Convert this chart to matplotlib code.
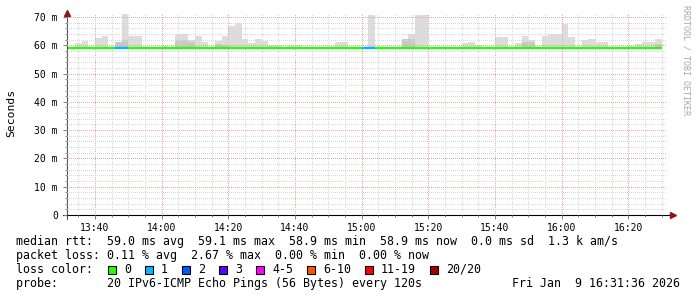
import numpy as np
import matplotlib.pyplot as plt
from matplotlib.patches import Rectangle

W, H = 697, 297

# 2 minute steps, minutes after midnight (13:32 ... 16:28)
step_start = np.arange(812, 990, 2)
t_first, t_last = 811.6, 991.6          # 13:31:36 .. 16:31:36

# smoke: highest ping per step (ms)
smoke_max = [59.3, 60.9, 61.6, 59.3, 62.7, 63.4, 59.3, 61.3, 71.1, 63.4,
             63.4, 59.3, 59.3, 59.3, 59.6, 59.3, 63.9, 63.9, 61.9, 63.3,
             61.1, 59.3, 61.5, 63.3, 66.8, 67.9, 62.2, 60.8, 62.2, 61.5,
             60.1, 60.1, 59.3, 60.1, 60.1, 59.3, 59.5, 59.3, 59.3, 59.3,
             61.1, 61.1, 59.3, 59.3, 59.3, 70.7, 59.3, 59.3, 59.3, 59.3,
             62.2, 64.0, 70.7, 70.7, 59.3, 59.3, 59.3, 59.5, 59.5, 60.8,
             61.1, 60.1, 59.5, 59.5, 62.9, 62.9, 59.3, 60.8, 63.3, 61.9,
             59.3, 63.3, 64.0, 64.0, 67.5, 62.9, 59.3, 61.9, 62.2, 61.1,
             61.1, 59.3, 59.3, 59.3, 59.6, 60.4, 61.1, 61.1, 62.2]
# inner (denser) part of the smoke
smoke_mid = [59.3, 59.3, 59.3, 59.3, 59.3, 59.3, 59.3, 61.3, 61.9, 59.3,
             59.3, 59.3, 59.3, 59.3, 59.3, 59.3, 62.0, 62.0, 61.0, 59.3,
             59.3, 59.3, 60.6, 60.2, 59.3, 59.3, 59.3, 59.3, 59.3, 59.3,
             59.3, 59.3, 59.3, 59.3, 59.3, 59.3, 59.3, 59.3, 59.3, 59.3,
             59.3, 59.3, 59.3, 59.3, 59.3, 59.3, 59.3, 59.3, 59.3, 59.3,
             62.2, 62.2, 59.3, 59.3, 59.3, 59.3, 59.3, 59.3, 59.3, 59.3,
             59.3, 59.3, 59.3, 59.3, 59.3, 59.3, 59.3, 59.3, 61.1, 61.0,
             59.3, 59.3, 59.3, 59.3, 59.3, 59.3, 59.3, 59.3, 59.3, 59.3,
             59.3, 59.3, 59.3, 59.3, 59.3, 59.3, 59.3, 59.3, 60.6]
smoke_min = 58.9
median = [59.0] * 89
# lost pings per step (out of 20)
loss = [0, 0, 0, 0, 0, 0, 0, 1, 1, 0, 0, 0, 0, 0, 0, 0, 0, 0, 0, 0,
        0, 0, 0, 0, 0, 0, 0, 0, 0, 0, 0, 0, 0, 0, 0, 0, 0, 0, 0, 0,
        0, 0, 0, 0, 1, 1, 0, 0, 0, 0, 0, 0, 0, 0, 0, 0, 0, 0, 0, 0,
        0, 0, 0, 0, 0, 0, 0, 0, 0, 0, 0, 0, 0, 0, 0, 0, 0, 0, 0, 0,
        0, 0, 0, 0, 0, 0, 0, 0, 0]

loss_labels = ['0', '1', '2', '3', '4-5', '6-10', '11-19', '20/20']
loss_colors = ['#26ff00', '#00b8ff', '#0059ff', '#5e00ff', '#ff00ff',
               '#ff5500', '#ff0000', '#a10000']
loss_bins = [0, 1, 2, 3, 4, 6, 11, 20]

x_ticks = [820, 840, 860, 880, 900, 920, 940, 960, 980]
x_labels = ['13:40', '14:00', '14:20', '14:40', '15:00', '15:20', '15:40',
            '16:00', '16:20']
y_ticks = [0, 10, 20, 30, 40, 50, 60, 70]
y_labels = ['0', '10 m', '20 m', '30 m', '40 m', '50 m', '60 m', '70 m']

legend_rows = [
    'median rtt:  59.0 ms avg  59.1 ms max  58.9 ms min  58.9 ms now  0.0 ms sd  1.3 k am/s',
    'packet loss: 0.11 % avg  2.67 % max  0.00 % min  0.00 % now',
    'loss color:',
    'probe:       20 IPv6-ICMP Echo Pings (56 Bytes) every 120s',
]
stamp = 'Fri Jan  9 16:31:36 2026'

mono = 'DejaVu Sans Mono'
plt.rcParams['font.family'] = mono

fig = plt.figure(figsize=(W / 100, H / 100), dpi=100)
ax = fig.add_axes([67 / W, (H - 215) / H, 600 / W, 202 / H])

step_start = np.asarray(step_start)
smax = np.asarray(smoke_max)
smid = np.asarray(smoke_mid)
ax.bar(step_start, smax - smoke_min, width=2, bottom=smoke_min, align='edge',
       color='#dcdcdc', linewidth=0, zorder=1)
ax.bar(step_start, smid - smoke_min, width=2, bottom=smoke_min, align='edge',
       color='#c8c8c8', linewidth=0, zorder=1.1)

def loss_color(n):
    idx = 0
    for i, b in enumerate(loss_bins):
        if n >= b:
            idx = i
    return loss_colors[idx]

ax.hlines(median, step_start, step_start + 2,
          colors=[loss_color(n) for n in loss], linewidth=1.7,
          capstyle='butt', zorder=3)

ax.set_xlim(t_first, t_last)
ax.set_ylim(0, 71.4)
ax.set_xticks(x_ticks)
ax.set_xticklabels(x_labels)
ax.set_xticks(np.arange(815, 991, 5), minor=True)
ax.set_yticks(y_ticks)
ax.set_yticklabels(y_labels)
ax.set_yticks(np.arange(0, 71, 2), minor=True)

dots = (0, (1, 2))
ax.grid(which='minor', color='#d8d8d8', linestyle=dots, linewidth=0.72,
        antialiased=False)
ax.grid(which='major', color='#eaa8a8', linestyle=dots, linewidth=0.72,
        antialiased=False)
ax.set_axisbelow(False)
for gl in ax.get_xgridlines() + ax.get_ygridlines():
    gl.set_zorder(2)

ax.tick_params(which='both', labelsize=7, color='#808080', width=0.7)
ax.tick_params(axis='y', which='major', length=3, pad=3.5)
ax.tick_params(axis='y', which='minor', length=1.5)
ax.tick_params(axis='x', which='major', length=3, pad=2.5)
ax.tick_params(axis='x', which='minor', length=1.5)

for s in ['top', 'right']:
    ax.spines[s].set_visible(False)
ax.spines['left'].set_color('#555555')
ax.spines['bottom'].set_color('#000000')
ax.spines['left'].set_bounds(-1.5, 71.4)
ax.spines['bottom'].set_bounds(t_first - 1.2, t_last + 1.5)
ax.plot([t_first], [71.4], marker='^', color='#8b1a1a', markersize=4,
        clip_on=False, zorder=5)
ax.plot([t_last + 1.7], [0], marker='>', color='#8b1a1a', markersize=4,
        clip_on=False, zorder=5)

fig.text(11 / W, 1 - 113 / H, 'Seconds', rotation=90, ha='center',
         va='center', fontsize=8.2)
fig.text(686 / W, 1 - 60 / H, 'RRDTOOL / TOBI OETIKER', rotation=270,
         ha='center', va='center', fontsize=6, color='#a8a8a8')

row_y = [241.5, 255.5, 269.5, 283.5]
for txt, yy in zip(legend_rows, row_y):
    fig.text(16 / W, 1 - yy / H, txt, ha='left', va='center', fontsize=8.4)
fig.text(680 / W, 1 - row_y[3] / H, stamp, ha='right', va='center',
         fontsize=8.4)

sx = 108
for lab, col in zip(loss_labels, loss_colors):
    fig.add_artist(Rectangle((sx / W, 1 - 273.5 / H), 8 / W, 8 / H,
                             facecolor=col, edgecolor='black', linewidth=0.8,
                             transform=fig.transFigure))
    fig.text((sx + 16) / W, 1 - row_y[2] / H, lab, ha='left', va='center',
             fontsize=8.4)
    sx += 30 + 7 * len(lab)

fig.savefig('out.png', dpi=100)
